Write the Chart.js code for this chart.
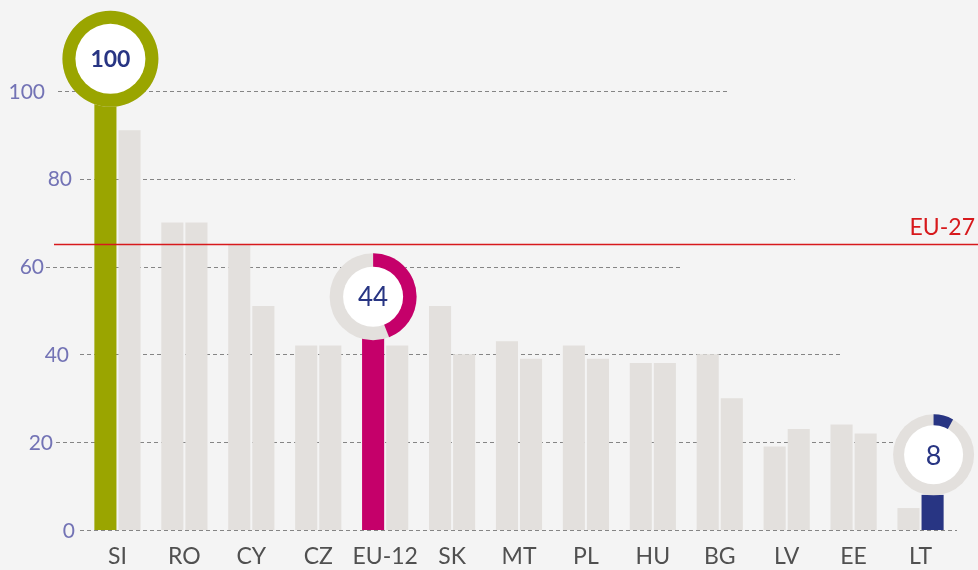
<!DOCTYPE html>
<html><head><meta charset="utf-8">
<script src="https://cdn.jsdelivr.net/npm/chart.js@4"></script>
<style>html,body{margin:0;padding:0;background:#f4f4f4;overflow:hidden}#wrap{width:978px;height:570px;position:relative}</style>
</head><body><div id="wrap"><canvas id="c"></canvas></div>
<script>
// ---- data ----
const categories = ['SI','RO','CY','CZ','EU-12','SK','MT','PL','HU','BG','LV','EE','LT'];
const seriesA = [100,70,65,42,44,51,43,42,38,40,19,24,5];
const seriesB = [91,70,51,42,42,40,39,39,38,30,23,22,8];
const yTicks = [0,20,40,60,80,100];
const eu27Value = 65;
const eu27Label = 'EU-27';
const highlightCategories = ['SI','EU-12','LT'];
const highlightSeries = [0,0,1];

// ---- style ----
const FONT = 'Lato, "Open Sans", sans-serif';
const GREY_BAR = '#e3e0dd';
const highlightColors = ['#9aa500','#c5006a','#283583'];
const ringStyle = [
  {outer:48, inner:35, lift:32, dx:5, font:'bold 23px '+FONT},
  {outer:43.5, inner:30, lift:40, dx:0, font:'26px '+FONT},
  {outer:40.5, inner:29.5, lift:40, dx:1, font:'27px '+FONT}
];
// per-tick gridline extents and label right edge (decoration)
const gridStyle = {
  0:{x0:80,x1:957,lx:75},
  20:{x0:56,x1:895,lx:53},
  40:{x0:80,x1:843,lx:69},
  60:{x0:46,x1:683,lx:44},
  80:{x0:80,x1:795,lx:72},
  100:{x0:58,x1:728,lx:45}
};

const colorsA = categories.map(()=>GREY_BAR);
const colorsB = categories.map(()=>GREY_BAR);
highlightCategories.forEach((c,i)=>{
  const idx = categories.indexOf(c);
  (highlightSeries[i]===0?colorsA:colorsB)[idx] = highlightColors[i];
});

const decor = {
  id:'decor',
  beforeDatasetsDraw(chart){
    const ctx = chart.ctx, y = chart.scales.y;
    ctx.save();
    ctx.strokeStyle = '#858585';
    ctx.lineWidth = 1;
    ctx.setLineDash([4,3]);
    yTicks.forEach(t=>{
      const g = gridStyle[t];
      const py = Math.round(y.getPixelForValue(t))+0.5;
      ctx.beginPath(); ctx.moveTo(g.x0,py); ctx.lineTo(g.x1,py); ctx.stroke();
    });
    ctx.setLineDash([]);
    ctx.fillStyle = '#7373b5';
    ctx.font = '21px '+FONT;
    ctx.textAlign = 'right';
    ctx.textBaseline = 'middle';
    yTicks.forEach(t=>{
      const g = gridStyle[t];
      ctx.fillText(String(t), g.lx, y.getPixelForValue(t)+1);
    });
    ctx.restore();
  },
  afterDatasetsDraw(chart){
    const ctx = chart.ctx, y = chart.scales.y;
    ctx.save();
    // EU-27 reference line
    const ry = y.getPixelForValue(eu27Value);
    ctx.strokeStyle = '#d7191c';
    ctx.lineWidth = 1.6;
    ctx.beginPath(); ctx.moveTo(54,ry); ctx.lineTo(978,ry); ctx.stroke();
    ctx.fillStyle = '#d7191c';
    ctx.font = '23px '+FONT;
    ctx.textAlign = 'right';
    ctx.textBaseline = 'alphabetic';
    ctx.fillText(eu27Label, 975, ry-10);
    // rings
    highlightCategories.forEach((c,i)=>{
      const idx = categories.indexOf(c);
      const s = highlightSeries[i];
      const val = (s===0?seriesA:seriesB)[idx];
      const el = chart.getDatasetMeta(s).data[idx];
      const st = ringStyle[i];
      const cx = el.x + st.dx, cy = el.y - st.lift;
      ctx.beginPath(); ctx.arc(cx,cy,st.outer,0,Math.PI*2);
      ctx.fillStyle = GREY_BAR; ctx.fill();
      ctx.beginPath();
      ctx.moveTo(cx,cy);
      ctx.arc(cx,cy,st.outer,-Math.PI/2,-Math.PI/2+Math.PI*2*val/100);
      ctx.closePath();
      ctx.fillStyle = highlightColors[i]; ctx.fill();
      ctx.beginPath(); ctx.arc(cx,cy,st.inner,0,Math.PI*2);
      ctx.fillStyle = '#ffffff'; ctx.fill();
      ctx.fillStyle = '#283583';
      ctx.font = st.font;
      ctx.textAlign = 'center';
      ctx.textBaseline = 'middle';
      ctx.fillText(String(val), cx, cy+1);
    });
    ctx.restore();
  }
};

new Chart(document.getElementById('c'), {
  type:'bar',
  data:{
    labels:categories,
    datasets:[
      {data:seriesA, backgroundColor:colorsA, barPercentage:0.917, categoryPercentage:0.72},
      {data:seriesB, backgroundColor:colorsB, barPercentage:0.917, categoryPercentage:0.72}
    ]
  },
  options:{
    responsive:true, maintainAspectRatio:false, animation:false, devicePixelRatio:1,
    layout:{padding:{left:84,right:24,top:3,bottom:0}},
    plugins:{legend:{display:false}, tooltip:{enabled:false}},
    scales:{
      x:{
        grid:{display:false, drawTicks:false}, border:{display:false},
        ticks:{color:'#505050', font:{family:FONT, size:23}, padding:13, maxRotation:0, minRotation:0, autoSkip:false},
        afterFit(s){ s.height = 40; }
      },
      y:{display:false, min:0, max:120}
    }
  },
  plugins:[decor]
});
</script></body></html>
